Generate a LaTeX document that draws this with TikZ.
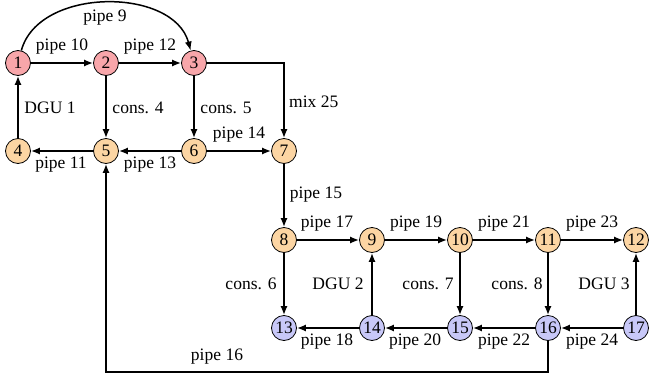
\documentclass[tikz,border=0pt]{standalone}
\usepackage{fontspec}
\setmainfont{Liberation Serif}
\usetikzlibrary{arrows.meta}
\definecolor{cpink}{RGB}{248,166,170}
\definecolor{corange}{RGB}{252,213,163}
\definecolor{cblue}{RGB}{200,200,248}
\begin{document}
\begin{tikzpicture}[x=1pt,y=-1pt,
  font=\fontsize{17.5}{20}\selectfont,
  nd/.style={circle,draw,line width=0.8pt,minimum size=25pt,inner sep=0pt},
  pk/.style={nd,fill=cpink},
  og/.style={nd,fill=corange},
  bl/.style={nd,fill=cblue},
  con/.style={line width=1.5pt,-{Latex[length=9pt,width=7pt]}},
  lbl/.style={inner sep=0pt}]
\useasboundingbox (0,0) rectangle (649,378);
% nodes
\node[pk] (n1) at (18,63) {1};
\node[pk] (n2) at (106,63) {2};
\node[pk] (n3) at (194,63) {3};
\node[og] (n4) at (18,151) {4};
\node[og] (n5) at (106,151) {5};
\node[og] (n6) at (194,151) {6};
\node[og] (n7) at (284,151) {7};
\node[og] (n8) at (284,240) {8};
\node[og] (n9) at (372,240) {9};
\node[og] (n10) at (460,240) {10};
\node[og] (n11) at (548,240) {11};
\node[og] (n12) at (636,240) {12};
\node[bl] (n13) at (284,328) {13};
\node[bl] (n14) at (372,328) {14};
\node[bl] (n15) at (460,328) {15};
\node[bl] (n16) at (548,328) {16};
\node[bl] (n17) at (636,328) {17};
\coordinate (c3) at (284,63);
\coordinate (b16) at (548,372);
\coordinate (b5) at (106,372);
% edges
\draw[con] (n1) to[out=75,in=105] (n3);
\draw[con] (n1) -- (n2);
\draw[con] (n2) -- (n3);
\draw[con] (n3) -- (c3) -- (n7);
\draw[con] (n4) -- (n1);
\draw[con] (n2) -- (n5);
\draw[con] (n3) -- (n6);
\draw[con] (n6) -- (n5);
\draw[con] (n5) -- (n4);
\draw[con] (n6) -- (n7);
\draw[con] (n7) -- (n8);
\draw[con] (n8) -- (n9);
\draw[con] (n9) -- (n10);
\draw[con] (n10) -- (n11);
\draw[con] (n11) -- (n12);
\draw[con] (n8) -- (n13);
\draw[con] (n14) -- (n9);
\draw[con] (n10) -- (n15);
\draw[con] (n11) -- (n16);
\draw[con] (n17) -- (n12);
\draw[con] (n14) -- (n13);
\draw[con] (n15) -- (n14);
\draw[con] (n16) -- (n15);
\draw[con] (n17) -- (n16);
\draw[con] (n16) -- (b16) -- (b5) -- (n5);
% labels
\node[lbl] (l9) at (105,18) {pipe 9};
\node[lbl] (l10) at (62,47) {pipe 10};
\node[lbl] (l12) at (150,47) {pipe 12};
\node[lbl] (ld1) at (50,108) {DGU 1};
\node[lbl] (lc4) at (138,108) {cons. 4};
\node[lbl] (lc5) at (226,108) {cons. 5};
\node[lbl,anchor=west] (l25) at (289,102) {mix 25};
\node[lbl] (l14) at (239,135) {pipe 14};
\node[lbl] (l11) at (61,165) {pipe 11};
\node[lbl] (l13) at (150,165) {pipe 13};
\node[lbl] (l15) at (316,195) {pipe 15};
\node[lbl] (l17) at (327,224) {pipe 17};
\node[lbl] (l19) at (416,224) {pipe 19};
\node[lbl] (l21) at (504,224) {pipe 21};
\node[lbl] (l23) at (592,224) {pipe 23};
\node[lbl] (lc6) at (251,284) {cons. 6};
\node[lbl] (ld2) at (338,284) {DGU 2};
\node[lbl] (lc7) at (428,284) {cons. 7};
\node[lbl] (lc8) at (517,284) {cons. 8};
\node[lbl] (ld3) at (604,284) {DGU 3};
\node[lbl] (l18) at (327,342) {pipe 18};
\node[lbl] (l20) at (415,342) {pipe 20};
\node[lbl] (l22) at (504,342) {pipe 22};
\node[lbl] (l24) at (592,342) {pipe 24};
\node[lbl] (l16) at (217,357) {pipe 16};
\end{tikzpicture}
\end{document}
